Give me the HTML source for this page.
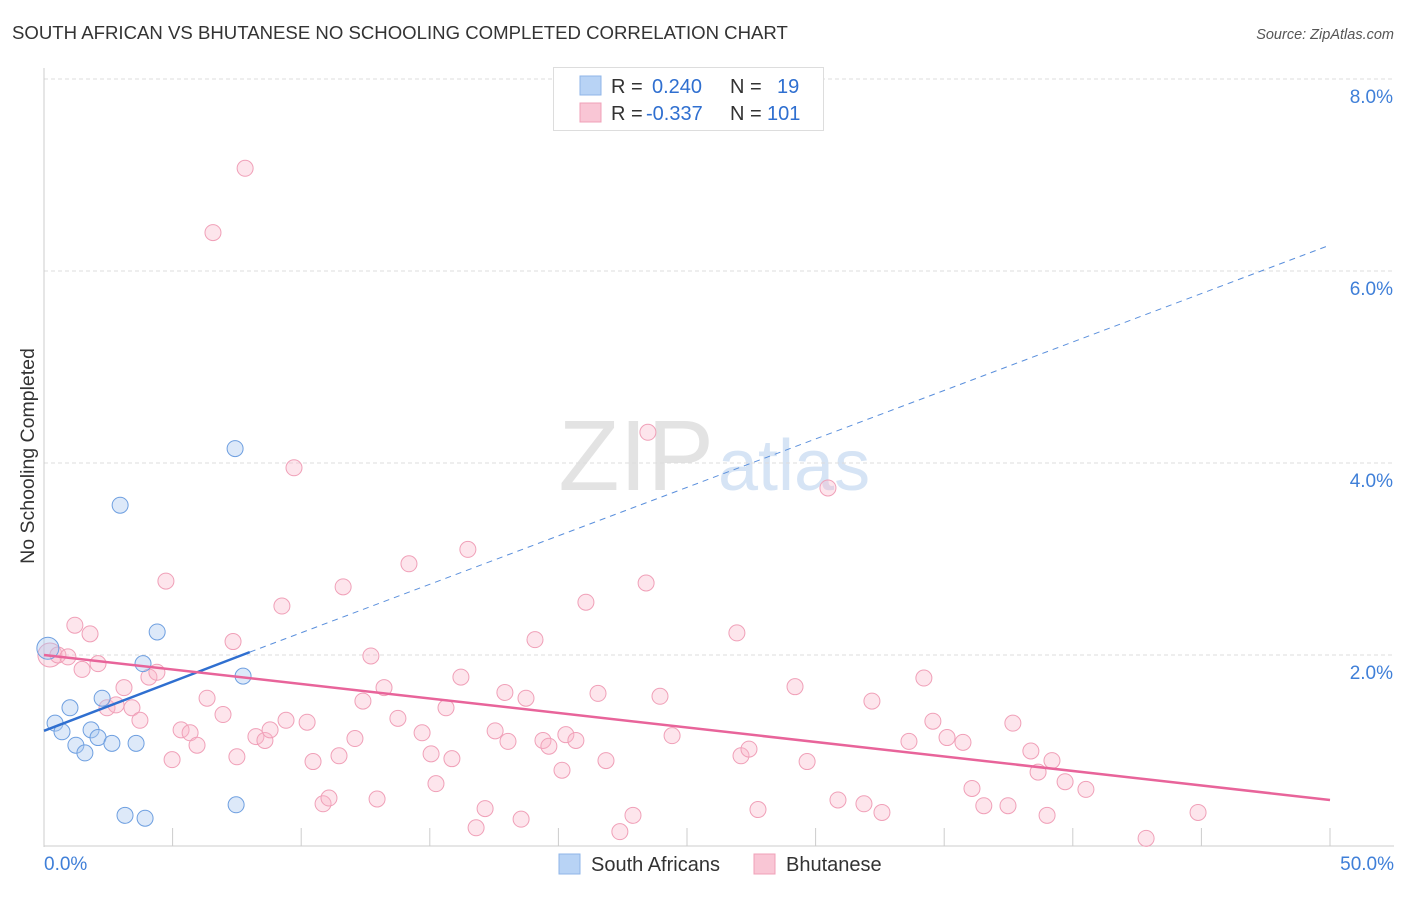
<!DOCTYPE html>
<html><head><meta charset="utf-8"><style>
body{margin:0;background:#fff;font-family:"Liberation Sans",sans-serif;}
svg text{font-family:"Liberation Sans",sans-serif;}
</style></head><body>
<svg id="c" width="1406" height="892" xmlns="http://www.w3.org/2000/svg">
<text x="12" y="39" font-size="18.6" fill="#333">SOUTH AFRICAN VS BHUTANESE NO SCHOOLING COMPLETED CORRELATION CHART</text>
<text x="1394" y="39" font-size="14.5" fill="#555" font-style="italic" text-anchor="end">Source: ZipAtlas.com</text>
<text x="714" y="490" font-size="100" fill="#e3e3e3" text-anchor="end" font-family="Liberation Serif">ZIP</text>
<text x="718" y="490" font-size="72" fill="#d6e4f5">atlas</text>
<g id="grid"></g>
<g id="axes"></g>
<g id="pts"></g>
<g id="lines"></g>
<text transform="translate(34,456) rotate(-90)" font-size="19.5" fill="#333" text-anchor="middle">No Schooling Completed</text>
<g>
<rect x="553.5" y="67.5" width="270" height="63" fill="#fff" stroke="#ddd"/>
<rect x="580" y="76" width="21" height="19" fill="#b8d3f5" stroke="#8fb6e8"/>
<rect x="580" y="103" width="21" height="19" fill="#f9c6d5" stroke="#f0a0b8"/>
<text x="611" y="93" font-size="20" fill="#333">R =</text>
<text x="652" y="93" font-size="20" fill="#2f6fd0">0.240</text>
<text x="730" y="93" font-size="20" fill="#333">N =</text>
<text x="777" y="93" font-size="20" fill="#2f6fd0">19</text>
<text x="611" y="120" font-size="20" fill="#333">R =</text>
<text x="646" y="120" font-size="20" fill="#2f6fd0">-0.337</text>
<text x="730" y="120" font-size="20" fill="#333">N =</text>
<text x="767" y="120" font-size="20" fill="#2f6fd0">101</text>
</g>
<g>
<rect x="559" y="854" width="21" height="20" fill="#b8d3f5" stroke="#8fb6e8"/>
<text x="591" y="871" font-size="20" fill="#333">South Africans</text>
<rect x="754" y="854" width="21" height="20" fill="#f9c6d5" stroke="#f0a0b8"/>
<text x="786" y="871" font-size="20" fill="#333">Bhutanese</text>
</g>
</svg>
<script>
const yTicks=[0,2,4,6,8];
const yTickLabels=["","2.0%","4.0%","6.0%","8.0%"];
const xTicks=[0,5,10,15,20,25,30,35,40,45,50];
const saX=[0.15,0.43,0.7,1.01,1.24,1.59,1.83,2.1,2.26,2.64,2.96,3.15,3.58,3.85,3.93,4.4,7.43,7.47,7.74];
const saY=[2.07,1.29,1.2,1.45,1.06,0.98,1.22,1.14,1.55,1.08,3.56,0.33,1.08,1.91,0.3,2.24,4.15,0.44,1.78];
const bhX=[0.23,0.54,0.93,1.2,1.48,1.79,2.1,2.45,2.8,3.11,3.42,3.73,4.08,4.39,4.74,4.98,5.33,5.68,5.95,6.34,6.57,6.96,7.35,7.5,7.82,8.24,8.59,8.79,9.25,9.41,9.72,10.23,10.46,10.85,11.08,11.47,11.63,12.09,12.4,12.71,12.95,13.22,13.76,14.19,14.7,15.05,15.24,15.63,15.86,16.21,16.48,16.8,17.15,17.54,17.92,18.04,18.55,18.74,19.09,19.4,19.63,20.14,20.29,20.68,21.07,21.54,21.85,22.39,22.9,23.41,23.48,23.95,24.42,26.94,27.1,27.41,27.76,29.2,29.67,30.48,30.87,31.88,32.19,32.58,33.63,34.21,34.56,35.11,35.73,36.08,36.54,37.48,37.67,38.37,38.65,39.0,39.19,39.7,40.51,42.85,44.87];
const bhY=[2.0,2.0,1.98,2.31,1.85,2.22,1.91,1.45,1.48,1.66,1.45,1.32,1.77,1.82,2.77,0.91,1.22,1.19,1.06,1.55,6.4,1.38,2.14,0.94,7.07,1.15,1.11,1.22,2.51,1.32,3.95,1.3,0.89,0.45,0.51,0.95,2.71,1.13,1.52,1.99,0.5,1.66,1.34,2.95,1.19,0.97,0.66,1.45,0.92,1.77,3.1,0.2,0.4,1.21,1.61,1.1,0.29,1.55,2.16,1.11,1.05,0.8,1.17,1.11,2.55,1.6,0.9,0.16,0.33,2.75,4.32,1.57,1.16,2.23,0.95,1.02,0.39,1.67,0.89,3.74,0.49,0.45,1.52,0.36,1.1,1.76,1.31,1.14,1.09,0.61,0.43,0.43,1.29,1.0,0.78,0.33,0.9,0.68,0.6,0.09,0.36];
const saLine=[[0,1.21],[8,2.03]];
const saDash=[[8,2.03],[50,6.27]];
const bhLine=[[0,2.0],[50,0.49]];
const X=v=>44+v*25.72, Y=v=>847-v*96;
const NS="http://www.w3.org/2000/svg";
function mk(tag,attrs,parent){const e=document.createElementNS(NS,tag);for(const k in attrs)e.setAttribute(k,attrs[k]);document.getElementById(parent).appendChild(e);return e;}
yTicks.forEach((t,i)=>{
 if(t>0){const g=mk('line',{x1:44,x2:1394,y1:Y(t),y2:Y(t),stroke:'#ddd','stroke-dasharray':'4,3'},'grid');
 
 
 const l=mk('text',{x:1393,y:Y(t)+24,'font-size':19,fill:'#3f7fd8','text-anchor':'end'},'axes');l.textContent=yTickLabels[i];
 
 }
});
const ax=mk('line',{x1:44,x2:44,y1:68,y2:847,stroke:'#ccc'},'axes');


const bx=mk('line',{x1:44,x2:1394,y1:846,y2:846,stroke:'#ccc'},'axes');


xTicks.forEach(t=>{const e=mk('line',{x1:X(t),x2:X(t),y1:828,y2:846,stroke:'#ccc'},'axes');
 
 });
[[0,"0.0%",'start',44],[50,"50.0%",'end',1394]].forEach(a=>{const l=mk('text',{x:a[3],y:870,'font-size':19,fill:'#3f7fd8','text-anchor':a[2]},'axes');l.textContent=a[1];
 
 });
bhX.forEach((x,i)=>{const c=mk('circle',{cx:X(x),cy:Y(bhY[i]),r:i==0?12:8,fill:'rgba(248,180,200,0.35)',stroke:'#f0a0b8','stroke-width':1},'pts');
 
 });
saX.forEach((x,i)=>{const c=mk('circle',{cx:X(x),cy:Y(saY[i]),r:i==0?11:8,fill:'rgba(170,200,240,0.4)',stroke:'#6e9fe0','stroke-width':1},'pts');
 
 });
const l1=mk('line',{x1:X(saLine[0][0]),y1:Y(saLine[0][1]),x2:X(saLine[1][0]),y2:Y(saLine[1][1]),stroke:'#2f6fd0','stroke-width':2.5},'lines');


const l2=mk('line',{x1:X(saDash[0][0]),y1:Y(saDash[0][1]),x2:X(saDash[1][0]),y2:Y(saDash[1][1]),stroke:'#5a8fdc','stroke-width':1,'stroke-dasharray':'6,5'},'lines');


const l3=mk('line',{x1:X(bhLine[0][0]),y1:Y(bhLine[0][1]),x2:X(bhLine[1][0]),y2:Y(bhLine[1][1]),stroke:'#e8649a','stroke-width':2.5},'lines');


</script>
</body></html>
